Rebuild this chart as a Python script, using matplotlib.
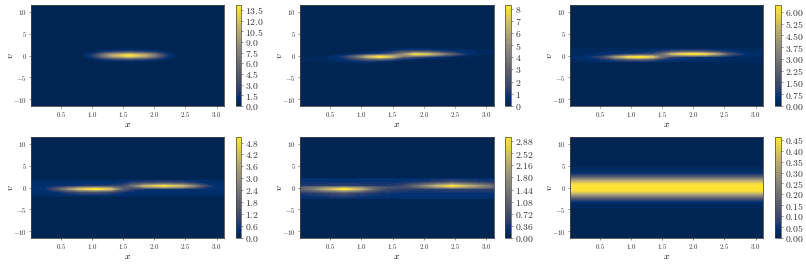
"""Six phase-space snapshots f(x, v), values read by eye off the reference."""

import numpy as np

import matplotlib
matplotlib.use("Agg")
import matplotlib.pyplot as plt

plt.rcParams["mathtext.fontset"] = "cm"
plt.rcParams["font.family"] = ["DejaVu Serif"]

W, H = 806, 264
X_MIN, X_MAX = 0.02, 3.12
V_LIM = 11.6
X_TICKS = [0.5, 1.0, 1.5, 2.0, 2.5, 3.0]
V_TICKS = [-10, -5, 0, 5, 10]

# panel 1: single blob
x_1 = [0.02, 0.85, 1.0, 1.1, 1.2, 1.35, 1.6, 1.85, 2.0, 2.1, 2.2, 2.35, 3.12]
v_1 = [-1.8, -1.4, -1.0, -0.6, -0.3, 0.0, 0.3, 0.6, 1.0, 1.4, 1.8]
f_1 = [
    [0, 0, 0, 0, 0, 0, 0, 0, 0, 0, 0, 0, 0],
    [0, 0, 0.1, 0.2, 0.3, 0.4, 0.5, 0.4, 0.3, 0.2, 0.1, 0, 0],
    [0, 0, 0.3, 0.6, 1.0, 1.5, 2.0, 1.5, 1.0, 0.6, 0.3, 0, 0],
    [0, 0.1, 0.8, 1.8, 3.0, 4.6, 6.0, 4.6, 3.0, 1.8, 0.8, 0.1, 0],
    [0, 0.2, 1.5, 3.4, 6.0, 9.0, 11.5, 9.0, 6.0, 3.4, 1.5, 0.2, 0],
    [0, 0.3, 2.0, 4.2, 7.0, 11.0, 14.2, 11.0, 7.2, 4.2, 2.0, 0.3, 0],
    [0, 0.2, 1.5, 3.4, 6.0, 9.0, 11.5, 9.0, 6.0, 3.4, 1.5, 0.2, 0],
    [0, 0.1, 0.8, 1.8, 3.0, 4.6, 6.0, 4.6, 3.0, 1.8, 0.8, 0.1, 0],
    [0, 0, 0.3, 0.6, 1.0, 1.5, 2.0, 1.5, 1.0, 0.6, 0.3, 0, 0],
    [0, 0, 0.1, 0.2, 0.3, 0.4, 0.5, 0.4, 0.3, 0.2, 0.1, 0, 0],
    [0, 0, 0, 0, 0, 0, 0, 0, 0, 0, 0, 0, 0],
]

# panel 2: blob splitting in two, faint tilted filaments
x_2 = [0.02, 0.4, 0.7, 0.9, 1.1, 1.3, 1.5, 1.65, 1.85, 2.05, 2.25, 2.45, 2.7, 3.0, 3.12]
v_2 = [-1.9, -1.3, -0.8, -0.3, 0.0, 0.3, 0.8, 1.3, 1.9]
f_2 = [
    [0, 0, 0, 0, 0, 0, 0, 0, 0, 0, 0, 0, 0, 0, 0],
    [0.25, 0.3, 0.4, 0.7, 0.8, 0.5, 0.3, 0.1, 0, 0, 0, 0, 0, 0, 0],
    [0.3, 0.3, 0.7, 1.6, 2.8, 3.2, 2.2, 0.9, 0.4, 0.3, 0.1, 0, 0, 0, 0],
    [0.1, 0.25, 1.0, 3.2, 6.5, 8.3, 6.5, 3.2, 2.0, 1.3, 0.8, 0.4, 0.15, 0, 0],
    [0, 0.1, 0.6, 2.0, 4.5, 5.8, 5.6, 5.0, 5.2, 4.4, 2.8, 1.4, 0.3, 0.1, 0],
    [0, 0, 0.15, 0.4, 0.8, 1.3, 2.4, 4.6, 7.9, 7.0, 5.2, 2.8, 0.6, 0.25, 0.1],
    [0, 0, 0, 0.1, 0.3, 0.5, 1.2, 2.2, 3.0, 2.8, 1.8, 1.0, 0.5, 0.3, 0.3],
    [0, 0, 0, 0, 0, 0.1, 0.4, 0.6, 0.7, 0.6, 0.4, 0.35, 0.3, 0.3, 0.3],
    [0, 0, 0, 0, 0, 0, 0, 0, 0, 0, 0, 0, 0, 0, 0],
]

# panel 3
x_3 = [0.02, 0.3, 0.55, 0.75, 0.95, 1.15, 1.35, 1.5, 1.65, 1.8, 2.0, 2.2, 2.4, 2.6, 2.85, 3.12]
v_3 = [-1.9, -1.5, -0.9, -0.35, 0.0, 0.35, 0.9, 1.5, 1.9]
f_3 = [
    [0, 0, 0, 0, 0, 0, 0, 0, 0, 0, 0, 0, 0, 0, 0, 0],
    [0.2, 0.2, 0.25, 0.25, 0.3, 0.3, 0.25, 0.2, 0.2, 0.2, 0.2, 0.2, 0.2, 0.2, 0.2, 0.2],
    [0.3, 0.35, 0.7, 1.3, 1.8, 2.0, 1.6, 0.9, 0.6, 0.5, 0.4, 0.35, 0.3, 0.3, 0.3, 0.3],
    [0.3, 0.5, 1.4, 4.0, 5.9, 6.4, 5.4, 2.6, 1.1, 0.8, 0.6, 0.5, 0.4, 0.3, 0.3, 0.3],
    [0.3, 0.3, 0.7, 1.8, 3.0, 3.5, 3.4, 3.0, 3.2, 3.4, 3.6, 3.4, 2.4, 1.0, 0.4, 0.3],
    [0.3, 0.3, 0.4, 0.5, 0.7, 0.9, 1.2, 2.5, 4.8, 5.8, 6.3, 5.8, 4.2, 1.5, 0.5, 0.3],
    [0.3, 0.3, 0.3, 0.3, 0.35, 0.4, 0.6, 1.0, 1.4, 1.7, 1.9, 1.6, 1.1, 0.6, 0.3, 0.3],
    [0.2, 0.2, 0.2, 0.2, 0.2, 0.2, 0.2, 0.2, 0.25, 0.25, 0.3, 0.3, 0.25, 0.2, 0.2, 0.2],
    [0, 0, 0, 0, 0, 0, 0, 0, 0, 0, 0, 0, 0, 0, 0, 0],
]

# panel 4
x_4 = [0.02, 0.25, 0.4, 0.6, 0.8, 1.05, 1.3, 1.5, 1.65, 1.85, 2.15, 2.45, 2.65, 2.8, 2.95, 3.12]
v_4 = [-2.2, -1.9, -1.0, -0.35, 0.0, 0.35, 1.0, 1.7, 2.0]
f_4 = [
    [0, 0, 0, 0, 0, 0, 0, 0, 0, 0, 0, 0, 0, 0, 0, 0],
    [0.22, 0.22, 0.22, 0.22, 0.22, 0.22, 0.22, 0.22, 0.22, 0.22, 0.22, 0.22, 0.22, 0.22, 0.22, 0.22],
    [0.3, 0.3, 0.4, 0.8, 1.2, 1.4, 1.1, 0.6, 0.4, 0.3, 0.3, 0.3, 0.3, 0.3, 0.3, 0.3],
    [0.4, 0.5, 1.2, 2.8, 4.2, 5.05, 4.2, 1.6, 0.8, 0.6, 0.5, 0.5, 0.4, 0.4, 0.4, 0.4],
    [0.4, 0.4, 0.9, 1.7, 2.5, 2.9, 2.5, 1.6, 1.5, 2.3, 2.8, 2.4, 1.5, 0.8, 0.4, 0.4],
    [0.3, 0.3, 0.4, 0.5, 0.6, 0.7, 0.8, 1.0, 2.2, 3.9, 4.8, 4.0, 2.6, 1.2, 0.5, 0.3],
    [0.3, 0.3, 0.3, 0.3, 0.3, 0.3, 0.3, 0.5, 0.9, 1.2, 1.4, 1.2, 0.7, 0.4, 0.3, 0.3],
    [0.22, 0.22, 0.22, 0.22, 0.22, 0.22, 0.22, 0.22, 0.22, 0.22, 0.22, 0.22, 0.22, 0.22, 0.22, 0.22],
    [0, 0, 0, 0, 0, 0, 0, 0, 0, 0, 0, 0, 0, 0, 0, 0],
]

# panel 5
x_5 = [0.02, 0.2, 0.4, 0.72, 1.0, 1.2, 1.4, 1.6, 1.8, 2.0, 2.2, 2.45, 2.7, 2.9, 3.05, 3.12]
v_5 = [-2.8, -2.6, -1.2, -0.35, 0.0, 0.35, 1.2, 2.1, 2.4]
f_5 = [
    [0, 0, 0, 0, 0, 0, 0, 0, 0, 0, 0, 0, 0, 0, 0, 0],
    [0.18, 0.18, 0.18, 0.18, 0.18, 0.18, 0.18, 0.18, 0.18, 0.18, 0.18, 0.18, 0.18, 0.18, 0.18, 0.18],
    [0.4, 0.45, 0.55, 0.8, 0.55, 0.4, 0.35, 0.3, 0.3, 0.3, 0.3, 0.3, 0.3, 0.3, 0.3, 0.3],
    [1.1, 1.4, 2.1, 3.0, 2.2, 1.2, 0.6, 0.5, 0.45, 0.4, 0.45, 0.5, 0.5, 0.5, 0.5, 0.4],
    [1.1, 1.3, 1.6, 1.9, 1.6, 1.1, 0.8, 0.7, 0.8, 1.2, 1.5, 1.8, 1.6, 1.4, 1.2, 1.0],
    [0.4, 0.4, 0.45, 0.5, 0.45, 0.4, 0.4, 0.5, 1.0, 1.6, 2.3, 2.9, 2.3, 1.8, 1.4, 1.1],
    [0.3, 0.3, 0.3, 0.3, 0.3, 0.3, 0.3, 0.3, 0.35, 0.4, 0.55, 0.8, 0.6, 0.45, 0.4, 0.4],
    [0.18, 0.18, 0.18, 0.18, 0.18, 0.18, 0.18, 0.18, 0.18, 0.18, 0.18, 0.18, 0.18, 0.18, 0.18, 0.18],
    [0, 0, 0, 0, 0, 0, 0, 0, 0, 0, 0, 0, 0, 0, 0, 0],
]

# panel 6: uniform in x, only the v profile matters
x_6 = [0.02, 3.12]
v_6 = [-5.0, -4.7, -4.0, -3.5, -3.0, -2.5, -2.0, -1.5, -1.0, -0.5, 0.0,
       0.5, 1.0, 1.5, 2.0, 2.5, 3.0, 3.5, 4.0, 4.7, 5.0]
profile_6 = [0, 0.012, 0.02, 0.035, 0.075, 0.15, 0.25, 0.35, 0.425, 0.455, 0.463,
             0.455, 0.425, 0.35, 0.25, 0.15, 0.075, 0.035, 0.02, 0.012, 0]
f_6 = [[p, p] for p in profile_6]

xs = [x_1, x_2, x_3, x_4, x_5, x_6]
vs = [v_1, v_2, v_3, v_4, v_5, v_6]
fs = [f_1, f_2, f_3, f_4, f_5, f_6]
tops = [14.2, 8.3, 6.43, 5.08, 3.0, 0.463]
cbar_ticks = [
    [0, 1.5, 3, 4.5, 6, 7.5, 9, 10.5, 12, 13.5],
    [0, 1, 2, 3, 4, 5, 6, 7, 8],
    [0, 0.75, 1.5, 2.25, 3, 3.75, 4.5, 5.25, 6],
    [0, 0.6, 1.2, 1.8, 2.4, 3, 3.6, 4.2, 4.8],
    [0, 0.36, 0.72, 1.08, 1.44, 1.8, 2.16, 2.52, 2.88],
    [0, 0.05, 0.1, 0.15, 0.2, 0.25, 0.3, 0.35, 0.4, 0.45],
]
cbar_fmt = ["%.1f", "%d", "%.2f", "%.1f", "%.2f", "%.2f"]

# pixel layout: (left, right) of axes and colorbar per column, (top, bottom) per row
AX_COLS = [(31, 224), (300, 494), (570, 763)]
CB_COLS = [(236, 241), (505, 511), (775, 781)]
ROWS = [(5, 106), (137, 238)]
EDGE = "#444444"


def pixel_axes(fig, left, right, top, bottom):
    return fig.add_axes([left / W, 1 - bottom / H, (right - left) / W, (bottom - top) / H])


def draw_panel(fig, i):
    row, col = divmod(i, 3)
    ax = pixel_axes(fig, *AX_COLS[col], *ROWS[row])
    cax = pixel_axes(fig, *CB_COLS[col], *ROWS[row])

    # zero rows out to the axes limits
    v = np.array([-V_LIM] + vs[i] + [V_LIM])
    f = np.array(fs[i], dtype=float)
    zeros = np.zeros((1, f.shape[1]))
    f = np.vstack([zeros, f, zeros])

    levels = np.linspace(0, tops[i], 41)
    cs = ax.contourf(xs[i], v, f, levels=levels, cmap="cividis")
    ax.set_xlim(X_MIN, X_MAX)
    ax.set_ylim(-V_LIM, V_LIM)
    ax.set_xticks(X_TICKS, [f"${t:.1f}$" for t in X_TICKS])
    ax.set_yticks(V_TICKS, [f"${t}$" for t in V_TICKS])
    ax.tick_params(labelsize=5, length=1.5, width=0.4, pad=1.5, color=EDGE, labelcolor="#333333")
    ax.set_xlabel("$x$", fontsize=7, labelpad=0.5)
    ax.set_ylabel("$v$", fontsize=7, labelpad=-1.5)
    for s in ax.spines.values():
        s.set_linewidth(0.6)
        s.set_color(EDGE)

    cb = fig.colorbar(cs, cax=cax, ticks=cbar_ticks[i])
    cb.ax.set_yticklabels(["$" + cbar_fmt[i] % t + "$" for t in cbar_ticks[i]])
    cb.ax.tick_params(labelsize=7, length=1.5, width=0.4, pad=1.5, color=EDGE, labelcolor="#333333")
    cb.outline.set_linewidth(0.5)
    cb.outline.set_edgecolor(EDGE)


def main():
    fig = plt.figure(figsize=(W / 100, H / 100), dpi=100, facecolor="white")
    for i in range(6):
        draw_panel(fig, i)
    fig.savefig("out.png", dpi=100, facecolor="white")


if __name__ == "__main__":
    main()
